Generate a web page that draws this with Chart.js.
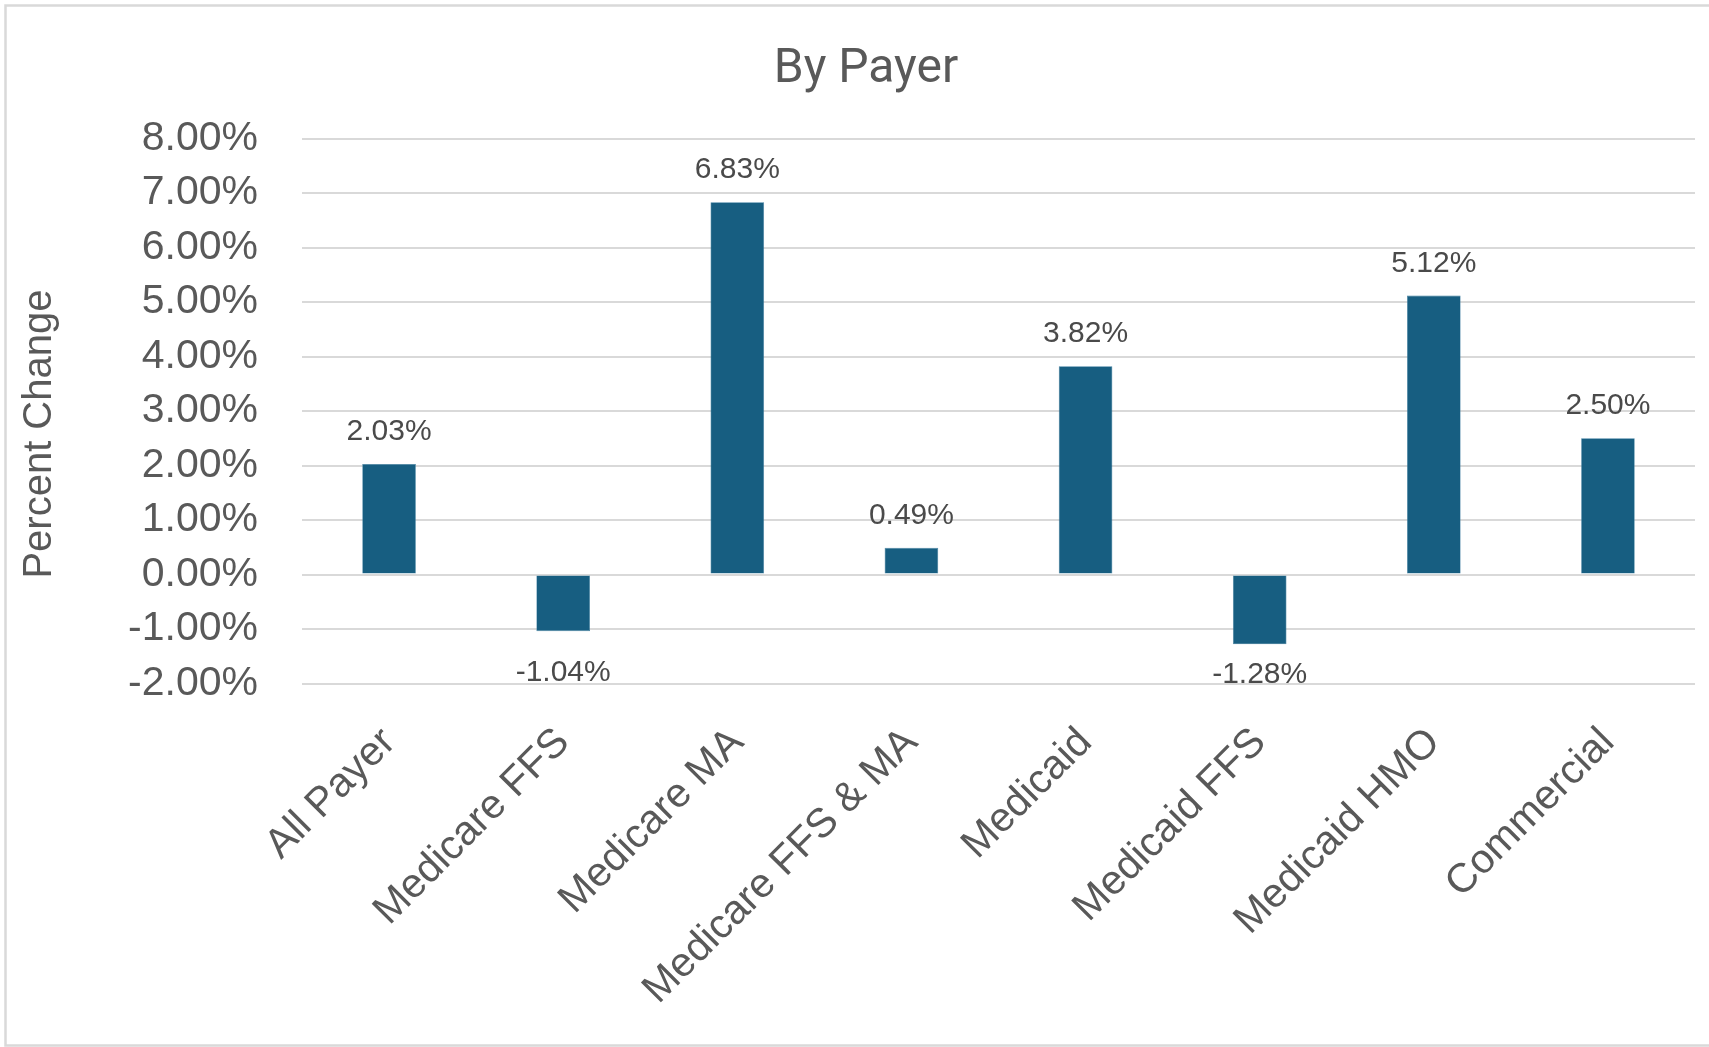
<!DOCTYPE html>
<html>
<head>
<meta charset="utf-8">
<title>By Payer</title>
<script src="https://cdn.jsdelivr.net/npm/chart.js@4.4.1/dist/chart.umd.min.js"></script>
<style>
  html, body { margin: 0; padding: 0; background: #fff; }
  #wrap { width: 1709px; height: 1047px; }
</style>
</head>
<body>
<div id="wrap"><canvas id="payerChart" width="1709" height="1047"></canvas></div>
<script>
const payers = ["All Payer", "Medicare FFS", "Medicare MA", "Medicare FFS & MA",
                "Medicaid", "Medicaid FFS", "Medicaid HMO", "Commercial"];
const pctChange = [2.03, -1.04, 6.83, 0.49, 3.82, -1.28, 5.12, 2.50];
const yMin = -2;
const yMax = 8;
const yStep = 1;
const yTitle = "Percent Change";

const textGray = "#595959";
const barBlue = "#175e81";
const baseFont = '"Liberation Sans", Arial, sans-serif';

// light frame round the chart
const chartFrame = {
    id: "chartFrame",
    beforeDraw(chart) {
        const { ctx, width, height } = chart;
        ctx.save();
        ctx.fillStyle = "#fff";
        ctx.fillRect(0, 0, width, height);
        ctx.strokeStyle = "#d9d9d9";
        ctx.lineWidth = 2.5;
        ctx.strokeRect(5.5, 5.5, width + 20, height - 7);
        ctx.restore();
    }
};

// value labels at the outer end of each bar
const valueLabels = {
    id: "valueLabels",
    afterDatasetsDraw(chart) {
        const { ctx, chartArea } = chart;
        const meta = chart.getDatasetMeta(0);
        ctx.save();
        ctx.font = "30px " + baseFont;
        ctx.fillStyle = "#4a4a4a";
        ctx.textAlign = "center";
        ctx.textBaseline = "alphabetic";
        meta.data.forEach((bar, i) => {
            const v = pctChange[i];
            const y = v >= 0 ? bar.y - 24 : Math.min(bar.y + 50, chartArea.bottom - 1);
            ctx.fillText(v.toFixed(2) + "%", bar.x, y);
        });
        ctx.restore();
    }
};

// vertical axis title, sitting a little below the middle of the plot
const yAxisTitle = {
    id: "yAxisTitle",
    afterDraw(chart) {
        const { ctx, chartArea } = chart;
        const yScale = chart.scales.y;
        ctx.save();
        ctx.translate(yScale.left + 3, (chartArea.top + chartArea.bottom) / 2 + 23);
        ctx.rotate(-Math.PI / 2);
        ctx.font = "40px " + baseFont;
        ctx.fillStyle = textGray;
        ctx.textAlign = "center";
        ctx.textBaseline = "middle";
        ctx.fillText(yTitle, 0, 0);
        ctx.restore();
    }
};

const ctx = document.getElementById("payerChart").getContext("2d");
new Chart(ctx, {
    type: "bar",
    data: {
        labels: payers,
        datasets: [{
            data: pctChange,
            backgroundColor: barBlue,
            borderColor: "#3f7fa0",
            borderWidth: 0.6,
            borderSkipped: false,
            barPercentage: 0.308,
            categoryPercentage: 1
        }]
    },
    options: {
        responsive: false,
        animation: false,
        devicePixelRatio: 1,
        layout: { padding: { top: 10, left: 37, right: 14, bottom: 0 } },
        plugins: {
            legend: { display: false },
            tooltip: { enabled: false },
            title: {
                display: true,
                text: "By Payer",
                color: textGray,
                font: { family: 'Roboto, "Liberation Sans", sans-serif', size: 48, weight: "normal" },
                padding: { top: 31, bottom: 40 }
            }
        },
        scales: {
            x: {
                grid: { display: false, drawTicks: false },
                border: { display: false },
                ticks: {
                    color: textGray,
                    font: { family: baseFont, size: 41 },
                    minRotation: 45,
                    maxRotation: 45,
                    autoSkip: false,
                    padding: 35
                },
                afterFit(scale) { scale.height = 1047 - 683.5; }
            },
            y: {
                min: yMin,
                max: yMax,
                grid: { color: "#d9d9d9", lineWidth: 2, drawTicks: false },
                border: { display: false },
                ticks: {
                    stepSize: yStep,
                    color: textGray,
                    padding: 44,
                    font: { family: baseFont, size: 41 },
                    callback: v => v.toFixed(2) + "%"
                },
                afterFit(scale) { scale.width = 302 - 37; }
            }
        }
    },
    plugins: [chartFrame, valueLabels, yAxisTitle]
});
</script>
</body>
</html>
